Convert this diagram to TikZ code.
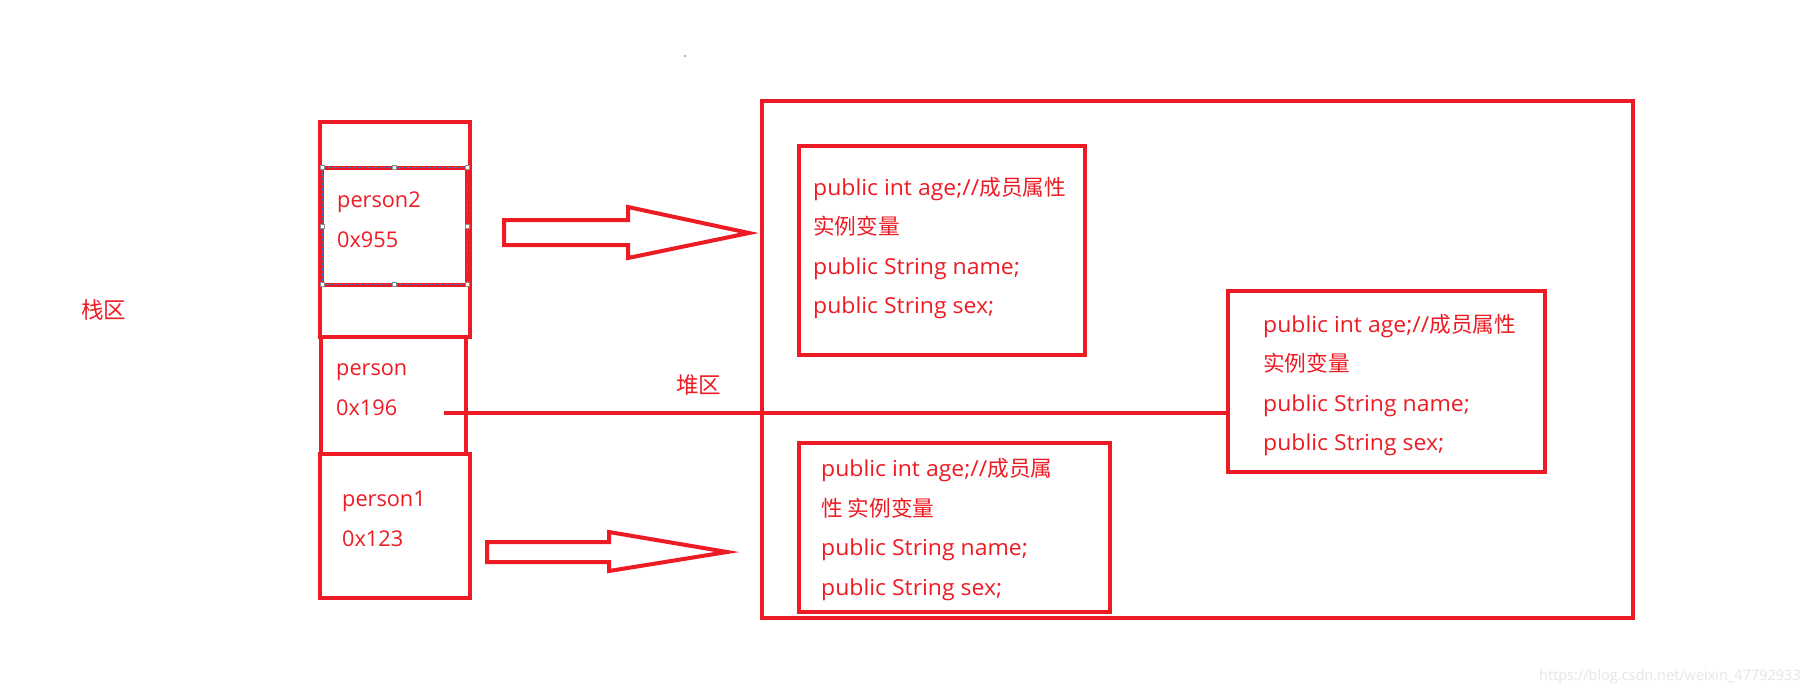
\documentclass[tikz,border=0pt]{standalone}
\usepackage{fontspec}
\setmainfont{Open Sans}
\newfontfamily\boxfont{Open Sans}[FakeStretch=1.045]
\newfontfamily\cjk{Noto Sans CJK SC}
\definecolor{pred}{HTML}{ED1C24}
\definecolor{selblue}{HTML}{3C78C8}
\begin{document}
\begin{tikzpicture}[x=1pt,y=-1pt,
  box/.style={draw=pred, line width=4pt, inner sep=0pt, outer sep=0pt},
  rline/.style={draw=pred, line width=4pt},
  txt/.style={anchor=base west, inner sep=0pt, text=pred, font=\fontsize{21.7}{26}\selectfont},
  btxt/.style={anchor=base west, inner sep=0pt, text=pred, font=\boxfont\fontsize{22}{26}\selectfont},
  handle/.style={draw=black!45, fill=white, line width=0.6pt, minimum size=4pt, inner sep=0pt}]
\useasboundingbox (0,0) rectangle (1820,694);
\fill[white] (0,0) rectangle (1820,694);

% tiny dot
\fill[black!60] (685,56) circle (0.9);

% stack column
\node[box, minimum width=150pt, minimum height=215pt] (stacktop) at (395,229.5) {};
\node[box, minimum width=150pt, minimum height=144pt] (stackbot) at (395,526) {};
\node[box, minimum width=145pt, minimum height=117pt] (p2box) at (394.5,226) {};
\node[box, minimum width=145pt, minimum height=117pt] (pbox) at (393,395.5) {};

% selection frame on person2 box
\draw[selblue, line width=0.8pt, dash pattern=on 3pt off 2pt] (p2box.north west) rectangle (p2box.south east);
\foreach \a in {north west,north,north east,west,east,south west,south,south east}
  \node[handle] at (p2box.\a) {};

% stack texts
\node[txt] (t1) at (337,207) {person2};
\node[txt] (t2) at (337,247) {0x955};
\node[txt] (t3) at (336,375) {person};
\node[txt] (t4) at (336,415) {0x196};
\node[txt] (t5) at (342,506) {person1};
\node[txt] (t6) at (342,546) {0x123};

% labels
\node[txt, font=\cjk\fontsize{22.5}{26}\selectfont] (stacklbl) at (81,318) {栈区};
\node[txt, font=\cjk\fontsize{22.5}{26}\selectfont] (heaplbl) at (676,393) {堆区};

% heap
\node[box, minimum width=871pt, minimum height=517pt] (heap) at (1197.5,359.5) {};

% object boxes
\node[box, minimum width=286pt, minimum height=209pt] (objA) at (942,250.5) {};
\node[box, minimum width=317pt, minimum height=181pt] (objB) at (1386.5,381.5) {};
\node[box, minimum width=311pt, minimum height=169pt] (objC) at (954.5,527.5) {};

\node[btxt] (a1) at (813,195) {public int age;//{\cjk\fontsize{21.7}{26}\selectfont 成员属性}};
\node[btxt] (a2) at (813,234.5) {\cjk\fontsize{21.7}{26}\selectfont 实例变量};
\node[btxt] (a3) at (813,274) {public String name;};
\node[btxt] (a4) at (813,313) {public String sex;};

\node[btxt] (b1) at (1263,332) {public int age;//{\cjk\fontsize{21.7}{26}\selectfont 成员属性}};
\node[btxt] (b2) at (1263,371.5) {\cjk\fontsize{21.7}{26}\selectfont 实例变量};
\node[btxt] (b3) at (1263,411) {public String name;};
\node[btxt] (b4) at (1263,450) {public String sex;};

\node[btxt] (c1) at (821,476) {public int age;//{\cjk\fontsize{21.7}{26}\selectfont 成员属}};
\node[btxt] (c2) at (821,516) {\cjk\fontsize{21.7}{26}\selectfont 性 实例变量};
\node[btxt] (c3) at (821,555) {public String name;};
\node[btxt] (c4) at (821,595) {public String sex;};

% connector person -> object B
\coordinate (pstart) at (444,413);
\draw[rline] (pstart) -- (pstart -| objB.west);

% block arrows
\draw[rline, line join=miter] (504,220) -- (628,220) -- (628,207) -- (749,233) -- (628,258) -- (628,245) -- (504,245) -- cycle;
\draw[rline, line join=miter] (487,542) -- (609,542) -- (609,532) -- (727,552) -- (609,571) -- (609,562) -- (487,562) -- cycle;

% watermark
\node[anchor=base west, inner sep=0pt, text=black!10, font=\fontsize{14.5}{16}\selectfont] (wm) at (1539,680) {https://blog.csdn.net/weixin\_47792933};
\end{tikzpicture}
\end{document}
